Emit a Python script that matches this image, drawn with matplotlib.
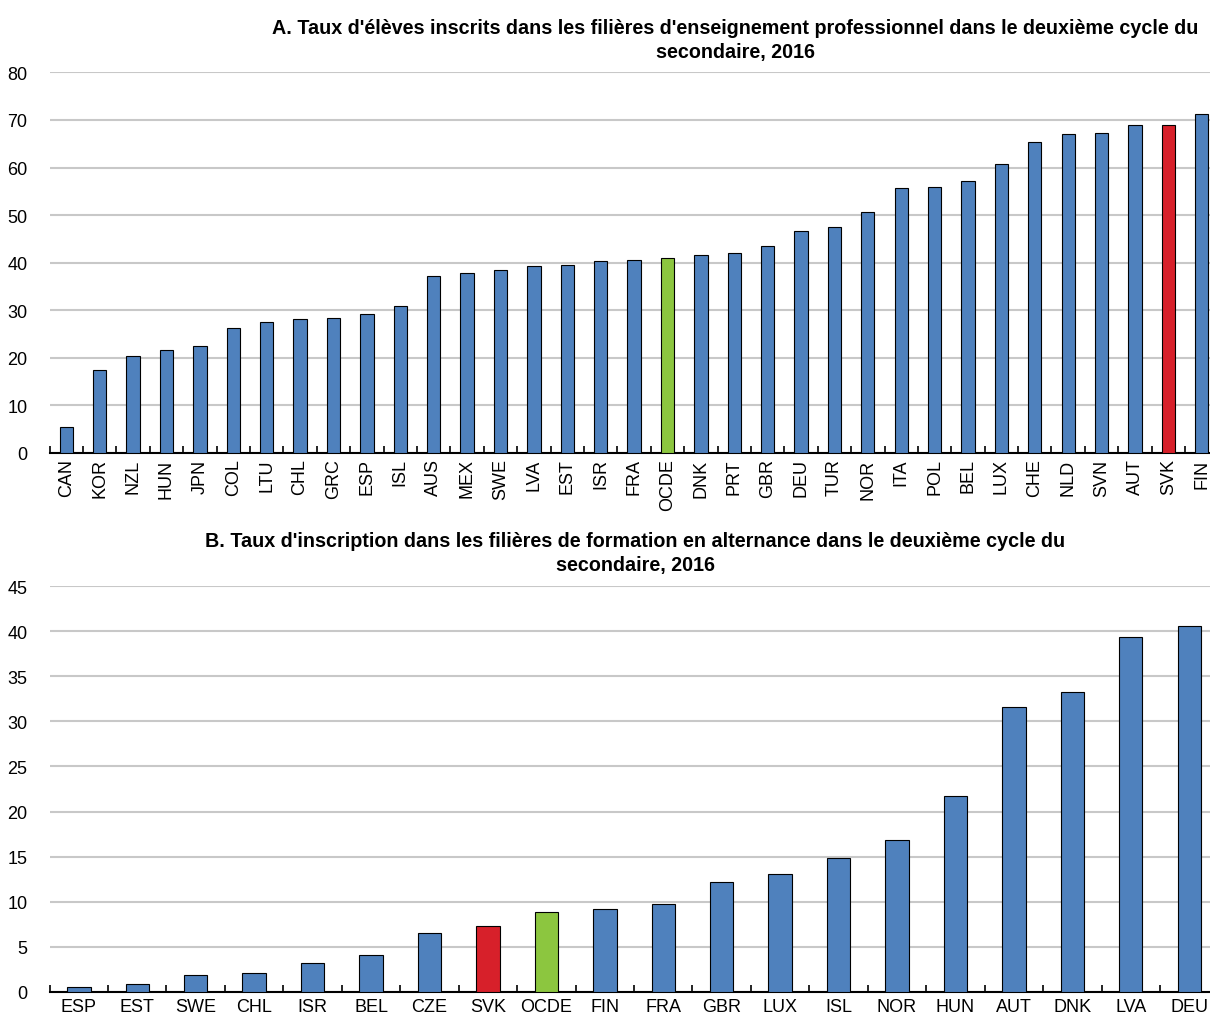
import matplotlib
matplotlib.use("Agg")
import matplotlib.pyplot as plt
import numpy as np

plt.rcParams['font.family'] = ['Liberation Sans Narrow', 'Liberation Sans', 'DejaVu Sans']

# Panel A data
countries_a = ["CAN", "KOR", "NZL", "HUN", "JPN", "COL", "LTU", "CHL", "GRC", "ESP",
               "ISL", "AUS", "MEX", "SWE", "LVA", "EST", "ISR", "FRA", "OCDE", "DNK",
               "PRT", "GBR", "DEU", "TUR", "NOR", "ITA", "POL", "BEL", "LUX", "CHE",
               "NLD", "SVN", "AUT", "SVK", "FIN"]
values_a = [5.5, 17.5, 20.3, 21.6, 22.5, 26.2, 27.5, 28.1, 28.3, 29.3,
            30.8, 37.1, 37.8, 38.4, 39.4, 39.6, 40.3, 40.6, 41.0, 41.7,
            42.0, 43.6, 46.6, 47.5, 50.7, 55.6, 55.9, 57.1, 60.8, 65.3,
            67.0, 67.3, 68.9, 68.9, 71.3]

# Panel B data
countries_b = ["ESP", "EST", "SWE", "CHL", "ISR", "BEL", "CZE", "SVK", "OCDE", "FIN",
               "FRA", "GBR", "LUX", "ISL", "NOR", "HUN", "AUT", "DNK", "LVA", "DEU"]
values_b = [0.5, 0.9, 1.9, 2.1, 3.2, 4.1, 6.5, 7.3, 8.9, 9.2,
            9.8, 12.2, 13.1, 14.9, 16.9, 21.7, 31.6, 33.3, 39.4, 40.6]

title_a = ("A. Taux d'élèves inscrits dans les filières d'enseignement professionnel dans le deuxième cycle du\n"
           "secondaire, 2016")
title_b = ("B. Taux d'inscription dans les filières de formation en alternance dans le deuxième cycle du\n"
           "secondaire, 2016")

BLUE = "#4F81BD"
RED = "#D7202A"
GREEN = "#8CC63F"


def bar_colors(names):
    cols = []
    for n in names:
        if n == "SVK":
            cols.append(RED)
        elif n == "OCDE":
            cols.append(GREEN)
        else:
            cols.append(BLUE)
    return cols


def draw_panel(ax, names, vals, ymax, ystep, rot):
    x = np.arange(len(names))
    ax.bar(x, vals, width=0.4, color=bar_colors(names), edgecolor="black",
           linewidth=0.8, zorder=3)
    ax.set_xlim(-0.5, len(names) - 0.5)
    ax.set_ylim(0, ymax)
    ax.set_yticks(np.arange(0, ymax + 1, ystep))
    ax.yaxis.grid(True, color="#C8C8C8", linewidth=1.5, zorder=0)
    for s in ["top", "right", "left"]:
        ax.spines[s].set_visible(False)
    ax.spines["bottom"].set_linewidth(1.5)
    ax.tick_params(axis="y", length=0, labelsize=13, pad=16)
    # ticks between categories
    ax.set_xticks(x - 0.5, minor=True)
    ax.set_xticks(x)
    ax.set_xticklabels(names, rotation=rot, fontsize=13)
    ax.tick_params(axis="x", which="major", length=0, pad=4)
    ax.tick_params(axis="x", which="minor", direction="in", length=5, width=1.2)


fig = plt.figure(figsize=(12.1, 10.2), dpi=100)

ax_a = fig.add_axes([0.041, 0.555, 0.966, 0.373])
draw_panel(ax_a, countries_a, values_a, 80, 10, 90)
fig.text(0.608, 0.981, title_a, ha="center", va="top", fontsize=14.2,
         fontweight="bold", linespacing=1.3)

ax_b = fig.add_axes([0.041, 0.0265, 0.966, 0.398])
draw_panel(ax_b, countries_b, values_b, 45, 5, 0)
fig.text(0.525, 0.478, title_b, ha="center", va="top", fontsize=14.2,
         fontweight="bold", linespacing=1.3)

fig.savefig("out.png", dpi=100)
